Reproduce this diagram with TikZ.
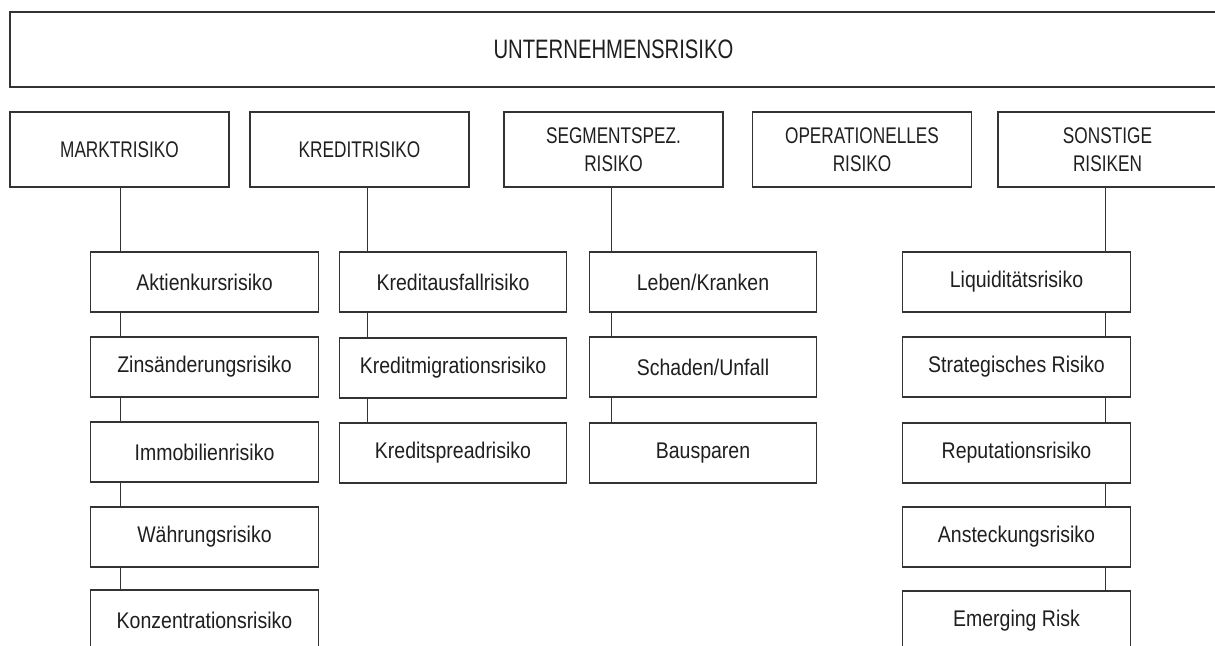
\documentclass[tikz,border=0pt]{standalone}
\usepackage{fontspec}
\newfontfamily\capfont[FakeStretch=0.76]{Liberation Sans}
\newfontfamily\lowfont[FakeStretch=0.86]{Liberation Sans}
\begin{document}
\begin{tikzpicture}[x=0.75pt,y=-0.75pt,
  box/.style={draw=black!80,line width=0.8pt,rectangle,inner sep=0pt,text=black!88,align=center},
  topbox/.style={box,minimum width=1207*0.75pt,minimum height=75*0.75pt,font=\capfont\fontsize{20}{24}\selectfont},
  catbox/.style={box,minimum width=219*0.75pt,minimum height=75*0.75pt,font=\capfont\fontsize{17}{21}\selectfont},
  subbox/.style={box,minimum width=227.5*0.75pt,minimum height=60*0.75pt,font=\lowfont\fontsize{17}{20}\selectfont},
  conn/.style={draw=black!80,line width=0.7pt}]
\clip (0,0) rectangle (1215,646);
\fill[white] (0,0) rectangle (1215,646);
% top
\node[topbox] (top) at (613.5,49.5) {UNTERNEHMENSRISIKO};
% categories
\node[catbox] (markt) at (119.5,149.5) {MARKTRISIKO};
\node[catbox] (kredit) at (359.5,149.5) {KREDITRISIKO};
\node[catbox] (segment) at (613.5,149.5) {SEGMENTSPEZ.\\RISIKO};
\node[catbox] (oper) at (862,149.5) {OPERATIONELLES\\RISIKO};
\node[catbox] (sonst) at (1107.5,149.5) {SONSTIGE\\RISIKEN};
% market column
\node[subbox] (m1) at (204.5,282) {Aktienkursrisiko};
\node[subbox] (m2) at (204.5,367) {Zinsänderungsrisiko};
\node[subbox] (m3) at (204.5,452) {Immobilienrisiko};
\node[subbox] (m4) at (204.5,537) {Währungsrisiko};
\node[subbox] (m5) at (204.5,620) {Konzentrationsrisiko};
% credit column
\node[subbox] (k1) at (453,282) {Kreditausfallrisiko};
\node[subbox] (k2) at (453,368) {Kreditmigrationsrisiko};
\node[subbox] (k3) at (453,453) {Kreditspreadrisiko};
% segment column
\node[subbox] (s1) at (703,282) {Leben/Kranken};
\node[subbox] (s2) at (703,367) {Schaden/Unfall};
\node[subbox] (s3) at (703,453) {Bausparen};
% other column
\node[subbox] (o1) at (1016.5,282) {Liquiditätsrisiko};
\node[subbox] (o2) at (1016.5,367) {Strategisches Risiko};
\node[subbox] (o3) at (1016.5,453) {Reputationsrisiko};
\node[subbox] (o4) at (1016.5,537) {Ansteckungsrisiko};
\node[subbox] (o5) at (1016.5,621) {Emerging Risk};
% connector x positions
\coordinate (cm) at (120.7,0);
\coordinate (ck) at (367.7,0);
\coordinate (cs) at (611.7,0);
\coordinate (co) at (1105.7,0);
% connectors
\draw[conn] (markt.south -| cm) -- (m1.north -| cm);
\draw[conn] (m1.south -| cm) -- (m2.north -| cm);
\draw[conn] (m2.south -| cm) -- (m3.north -| cm);
\draw[conn] (m3.south -| cm) -- (m4.north -| cm);
\draw[conn] (m4.south -| cm) -- (m5.north -| cm);
\draw[conn] (kredit.south -| ck) -- (k1.north -| ck);
\draw[conn] (k1.south -| ck) -- (k2.north -| ck);
\draw[conn] (k2.south -| ck) -- (k3.north -| ck);
\draw[conn] (segment.south -| cs) -- (s1.north -| cs);
\draw[conn] (s1.south -| cs) -- (s2.north -| cs);
\draw[conn] (s2.south -| cs) -- (s3.north -| cs);
\draw[conn] (sonst.south -| co) -- (o1.north -| co);
\draw[conn] (o1.south -| co) -- (o2.north -| co);
\draw[conn] (o2.south -| co) -- (o3.north -| co);
\draw[conn] (o3.south -| co) -- (o4.north -| co);
\draw[conn] (o4.south -| co) -- (o5.north -| co);
\end{tikzpicture}
\end{document}
